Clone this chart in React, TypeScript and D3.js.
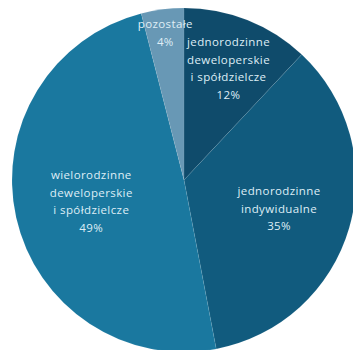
import React from "react";
import * as d3 from "d3";

const categories = [
  "jednorodzinne\ndeweloperskie\ni spółdzielcze",
  "jednorodzinne\nindywidualne",
  "wielorodzinne\ndeweloperskie\ni spółdzielcze",
  "pozostałe",
];
const values = [12, 35, 49, 4];
const percentLabels = ["12%", "35%", "49%", "4%"];

const COLORS = ["#0f4b6b", "#115b7e", "#1a789f", "#6898b5"];
const LABEL_R = [121, 99, 95, 149];

const W = 353;
const H = 350;
const CX = 184;
const CY = 180;
const R = 172;
const LINE_H = 17.5;

export default function App() {
  const pie = d3.pie<number>().sort(null).value((d) => d)(values);
  const arc = d3.arc<d3.PieArcDatum<number>>().innerRadius(0).outerRadius(R);

  return (
    <svg
      width={W}
      height={H}
      style={{ position: "absolute", left: 0, top: 0, background: "#ffffff" }}
    >
      <g transform={`translate(${CX},${CY})`}>
        {pie.map((p, i) => (
          <path
            key={i}
            d={arc(p) || ""}
            fill={COLORS[i]}
            stroke="rgba(255,255,255,0.12)"
            strokeWidth={0.6}
          />
        ))}
        {pie.map((p, i) => {
          const lr = LABEL_R[i];
          const a = d3.arc<d3.PieArcDatum<number>>().innerRadius(lr).outerRadius(lr);
          const [x, y] = a.centroid(p);
          const lines = [...categories[i].split("\n"), percentLabels[i]];
          const y0 = y - ((lines.length - 1) * LINE_H) / 2;
          return (
            <text
              key={"t" + i}
              textAnchor="middle"
              dominantBaseline="central"
              fontFamily="'Open Sans', sans-serif"
              fontSize={11.5}
              letterSpacing={0.4}
              fill="#dfeef6"
            >
              {lines.map((l, j) => (
                <tspan key={j} x={x} y={y0 + j * LINE_H}>
                  {l}
                </tspan>
              ))}
            </text>
          );
        })}
      </g>
    </svg>
  );
}
